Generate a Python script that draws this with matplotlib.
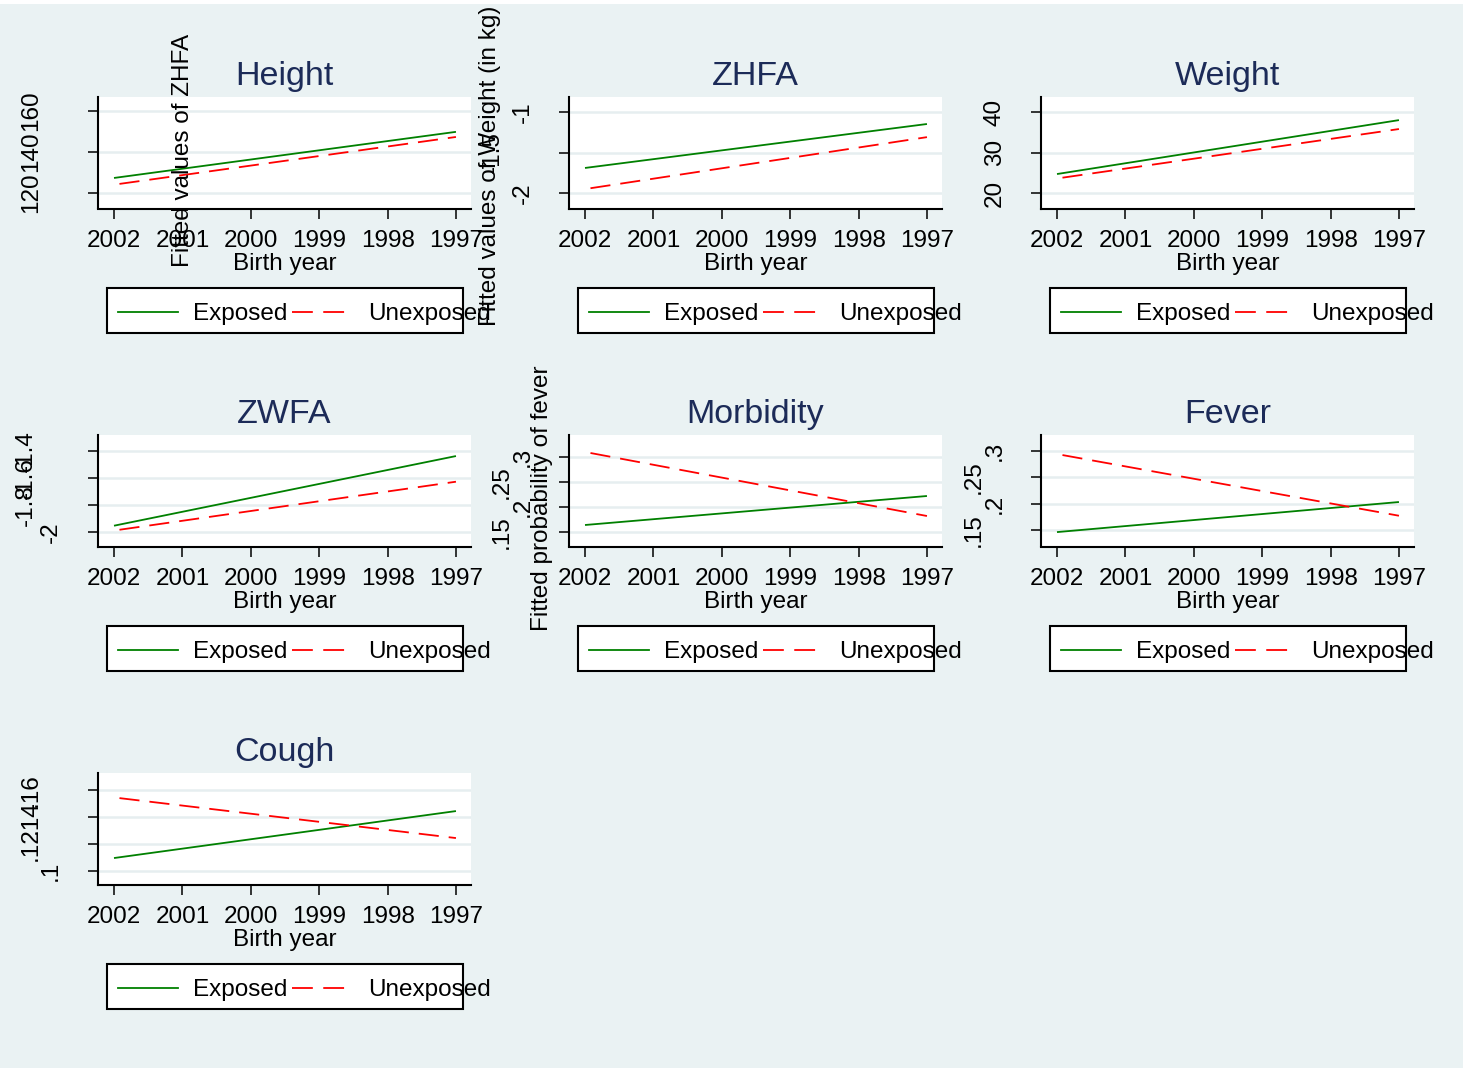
import matplotlib
matplotlib.use("Agg")
import matplotlib.pyplot as plt
from matplotlib.patches import Rectangle
from matplotlib.lines import Line2D
import matplotlib.transforms as mtransforms

plt.rcParams['font.family'] = ['Liberation Sans', 'DejaVu Sans']
plt.rcParams['lines.scale_dashes'] = False

# ---------------- data ----------------
birth_years = [2002, 2001, 2000, 1999, 1998, 1997]
year_labels = ['2002', '2001', '2000', '1999', '1998', '1997']
series_names = ['Exposed', 'Unexposed']
x_exposed = [2002, 1997]
x_unexposed = [2001.92, 1997]

panel_titles = ['Height', 'ZHFA', 'Weight', 'ZWFA', 'Morbidity', 'Fever', 'Cough']

height_exposed = [127.3, 149.8]
height_unexposed = [124.4, 147.3]
zhfa_exposed = [-1.69, -1.148]
zhfa_unexposed = [-1.94, -1.31]
weight_exposed = [24.7, 38.0]
weight_unexposed = [23.8, 35.8]
zwfa_exposed = [-1.953, -1.437]
zwfa_unexposed = [-1.983, -1.627]
morbidity_exposed = [0.164, 0.222]
morbidity_unexposed = [0.308, 0.182]
fever_exposed = [0.146, 0.203]
fever_unexposed = [0.292, 0.177]
cough_exposed = [0.1096, 0.1444]
cough_unexposed = [0.154, 0.1244]

height_yticks = [120, 140, 160]
height_yticklabels = ['120', '140', '160']
zhfa_yticks = [-2, -1.5, -1]
zhfa_yticklabels = ['-2', '-1.5', '-1']
weight_yticks = [20, 30, 40]
weight_yticklabels = ['20', '30', '40']
zwfa_yticks = [-2, -1.8, -1.6, -1.4]
zwfa_yticklabels = ['-2', '-1.8', '-1.6', '-1.4']
morbidity_yticks = [0.15, 0.2, 0.25, 0.3]
morbidity_yticklabels = ['.15', '.2', '.25', '.3']
fever_yticks = [0.15, 0.2, 0.25, 0.3]
fever_yticklabels = ['.15', '.2', '.25', '.3']
cough_yticks = [0.1, 0.12, 0.14, 0.16]
cough_yticklabels = ['.1', '.12', '.14', '.16']

axis_titles = ['Fitted values of ZHFA', 'Fitted values of Weight (in kg)',
               'Fitted probability of fever']
x_title = 'Birth year'

# ---------------- layout / style ----------------
W, H = 1465, 1068
BG = '#EAF2F3'
GRID = '#E6EEF0'
TITLE_C = '#1C2B58'
GREEN = '#008000'
RED = '#FF0000'
FS = 17.5
TFS = 24.5

panels = [
    (height_exposed, height_unexposed, height_yticks, height_yticklabels, (112.4, 166.8), [28, 28, 28]),
    (zhfa_exposed, zhfa_unexposed, zhfa_yticks, zhfa_yticklabels, (-2.19, -0.815), [520, 490, 520]),
    (weight_exposed, weight_unexposed, weight_yticks, weight_yticklabels, (16.2, 43.7), [992, 992, 992]),
    (zwfa_exposed, zwfa_unexposed, zwfa_yticks, zwfa_yticklabels, (-2.107, -1.281), [48, 23, 23, 23]),
    (morbidity_exposed, morbidity_unexposed, morbidity_yticks, morbidity_yticklabels, (0.121, 0.344), [499, 520, 499, 520]),
    (fever_exposed, fever_unexposed, fever_yticks, fever_yticklabels, (0.1187, 0.330), [971, 992, 971, 992]),
    (cough_exposed, cough_unexposed, cough_yticks, cough_yticklabels, (0.090, 0.1726), [48, 28, 28, 28]),
]

COL_LEFT = [98, 569, 1041]
ROW_TOP = [97, 435, 773]
PW, PH = 373, 111.5


def fx(px):
    return px / W


def fy(py):
    return 1 - py / H


fig = plt.figure(figsize=(W / 100, H / 100), dpi=100, facecolor='white')
fig.add_artist(Rectangle((0, 0), fx(1463), fy(4), transform=fig.transFigure,
                         facecolor=BG, edgecolor='none', zorder=-5))

for i, (exp_v, unexp_v, yt, ytl, ylim, ytx) in enumerate(panels):
    col, row = i % 3, i // 3
    L, T = COL_LEFT[col], ROW_TOP[row]
    ax = fig.add_axes([fx(L), fy(T + PH), PW / W, PH / H])
    ax.set_facecolor('white')
    ax.set_xlim(2002.234, 1996.78)
    ax.set_ylim(*ylim)
    ax.plot(x_exposed, exp_v, color=GREEN, lw=1.3, solid_capstyle='butt', zorder=3)
    ax.plot(x_unexposed, unexp_v, color=RED, lw=1.3, dashes=(14.5, 7.2),
            dash_capstyle='butt', zorder=3)
    ax.set_yticks(yt)
    ax.tick_params(axis='y', labelleft=False, length=7.2, width=1.1,
                   direction='out', color='black')
    ax.grid(axis='y', color=GRID, lw=1.8)
    ax.set_axisbelow(True)
    ax.set_xticks(birth_years, year_labels)
    ax.tick_params(axis='x', length=7.5, width=1.1, direction='out', pad=8,
                   labelsize=FS, color='black')
    for s in ['top', 'right']:
        ax.spines[s].set_visible(False)
    for s in ['left', 'bottom']:
        ax.spines[s].set_linewidth(1.5)
        ax.spines[s].set_color('black')

    trans = mtransforms.blended_transform_factory(fig.transFigure, ax.transData)
    for v, lab, xc in zip(yt, ytl, ytx):
        ax.text(fx(xc + 8.7), v, lab, transform=trans, rotation=90,
                rotation_mode='anchor', ha='center', va='baseline',
                fontsize=FS, clip_on=False)

    cx = L + PW / 2
    fig.text(fx(cx), fy(T - 12), panel_titles[i], ha='center', va='baseline',
             fontsize=TFS, color=TITLE_C)
    fig.text(fx(cx), fy(T + 173), x_title, ha='center', va='baseline', fontsize=FS)

    # legend
    fig.add_artist(Rectangle((fx(L + 9), fy(T + 236)), (356) / W, 45 / H,
                             transform=fig.transFigure, facecolor='white',
                             edgecolor='black', lw=1.5, zorder=2))
    ly = fy(T + 215)
    fig.add_artist(Line2D([fx(L + 20), fx(L + 80)], [ly, ly], transform=fig.transFigure,
                          color=GREEN, lw=1.3, zorder=2.5))
    fig.add_artist(Line2D([fx(L + 194), fx(L + 247)], [ly, ly], transform=fig.transFigure,
                          color=RED, lw=1.3, dashes=(15, 7.5), zorder=2.5))
    fig.text(fx(L + 95), fy(T + 223), series_names[0], ha='left', va='baseline', fontsize=FS)
    fig.text(fx(L + 270), fy(T + 223), series_names[1], ha='left', va='baseline', fontsize=FS)

# misplaced y-axis titles
for txt, xc, yc in [(axis_titles[0], 180, 150), (axis_titles[1], 487, 166),
                    (axis_titles[2], 539, 498)]:
    fig.text(fx(xc + 8.7), fy(yc), txt, rotation=90, rotation_mode='anchor',
             ha='center', va='baseline', fontsize=FS)

fig.savefig('out.png', dpi=100, facecolor='white')
